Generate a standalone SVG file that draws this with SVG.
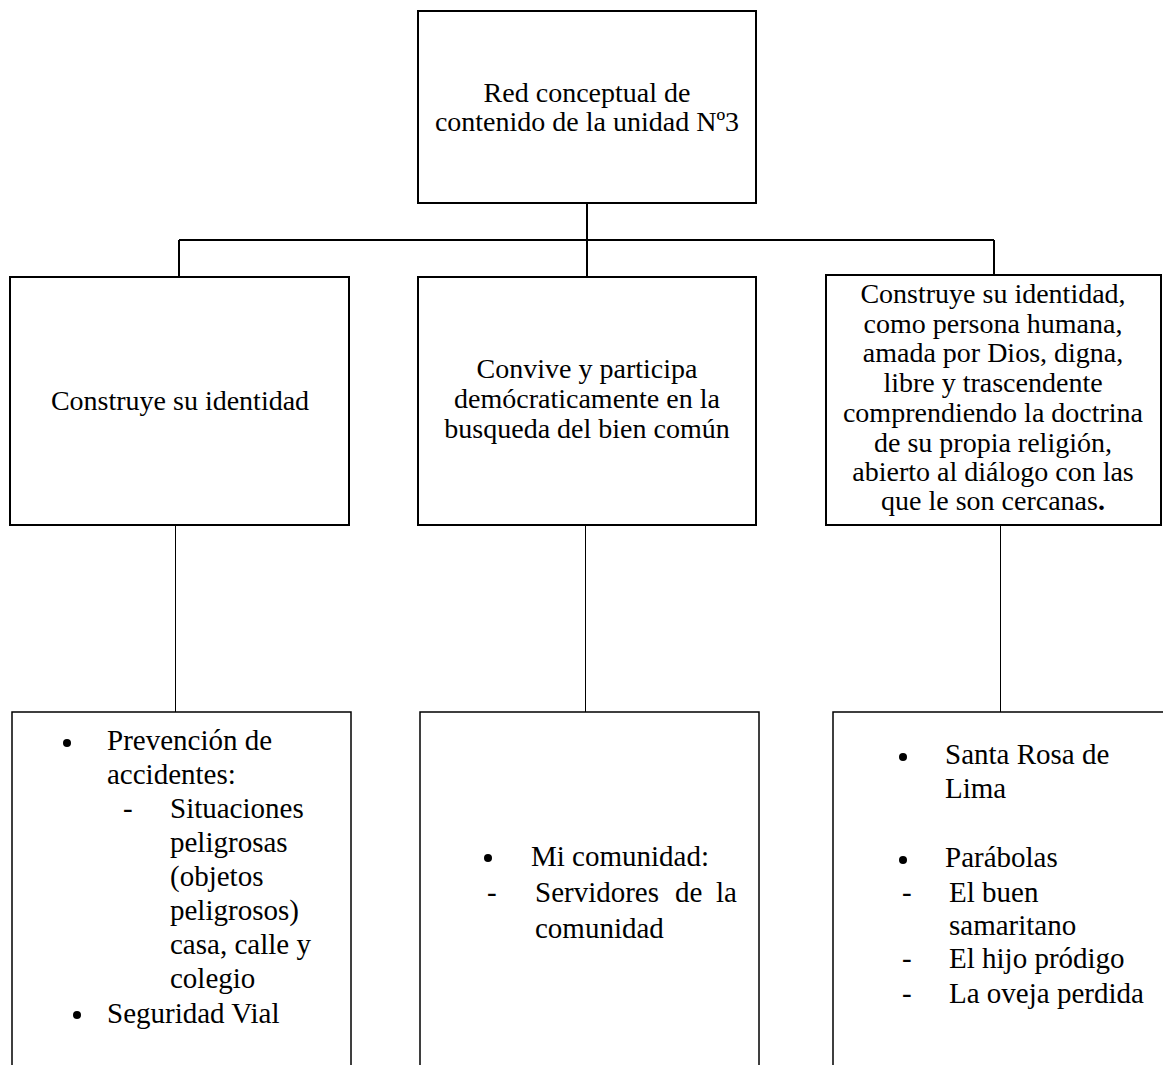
<svg xmlns="http://www.w3.org/2000/svg" width="1163" height="1065" viewBox="0 0 1163 1065">
<style>
.box{fill:#fff;stroke:#000;stroke-width:2}
.sub{fill:#fff;stroke:#000;stroke-width:1.5}
.t{font-family:"Liberation Serif","Times New Roman",serif;font-size:28px;fill:#000;text-anchor:middle}
.b{font-family:"Liberation Serif","Times New Roman",serif;font-size:29px;fill:#000}
.c{fill:none;stroke:#000}
</style>
<rect width="1163" height="1065" fill="#fff"/>
<g id="connectors">
<path class="c" stroke-width="2" d="M587 203V240M179 240H994M179 240V277M587 240V277M994 240V275"/>
<path class="c" stroke-width="1" d="M175.5 526V712M585.5 526V712M1000.5 526V712"/>
</g>
<g id="root">
<rect class="box" x="418" y="11" width="338" height="192"/>
<text class="t" x="587" y="102">Red conceptual de</text>
<text class="t" x="587" y="131">contenido de la unidad Nº3</text>
</g>
<g id="n1">
<rect class="box" x="10" y="277" width="339" height="248"/>
<text class="t" x="180" y="410">Construye su identidad</text>
</g>
<g id="n2">
<rect class="box" x="418" y="277" width="338" height="248"/>
<text class="t" x="587" y="378">Convive y participa</text>
<text class="t" x="587" y="408">demócraticamente en la</text>
<text class="t" x="587" y="438">busqueda del bien común</text>
</g>
<g id="n3">
<rect class="box" x="826" y="275" width="335" height="250"/>
<text class="t" x="993" y="303">Construye su identidad,</text>
<text class="t" x="993" y="333">como persona humana,</text>
<text class="t" x="993" y="362">amada por Dios, digna,</text>
<text class="t" x="993" y="392">libre y trascendente</text>
<text class="t" x="993" y="422">comprendiendo la doctrina</text>
<text class="t" x="993" y="452">de su propia religión,</text>
<text class="t" x="993" y="481">abierto al diálogo con las</text>
<text class="t" x="993" y="510">que le son cercanas<tspan font-weight="bold">.</tspan></text>
</g>
<g id="n1a">
<rect class="sub" x="12" y="712" width="339" height="360"/>
<circle cx="67" cy="743" r="4"/>
<text class="b" x="107" y="750">Prevención de</text>
<text class="b" x="107" y="784">accidentes:</text>
<text class="b" x="123" y="818">-</text>
<text class="b" x="170" y="818">Situaciones</text>
<text class="b" x="170" y="852">peligrosas</text>
<text class="b" x="170" y="886">(objetos</text>
<text class="b" x="170" y="920">peligrosos)</text>
<text class="b" x="170" y="954">casa, calle y</text>
<text class="b" x="170" y="988">colegio</text>
<circle cx="77" cy="1015" r="4"/>
<text class="b" x="107" y="1023">Seguridad Vial</text>
</g>
<g id="n2a">
<rect class="sub" x="420" y="712" width="339" height="360"/>
<circle cx="488" cy="858" r="4"/>
<text class="b" x="531" y="866">Mi comunidad:</text>
<text class="b" x="487" y="902">-</text>
<text class="b" y="902"><tspan x="535">Servidores</tspan><tspan x="675">de</tspan><tspan x="716">la</tspan></text>
<text class="b" x="535" y="938">comunidad</text>
</g>
<g id="n3a">
<rect class="sub" x="833" y="712" width="340" height="360"/>
<circle cx="903" cy="757" r="4"/>
<text class="b" x="945" y="764">Santa Rosa de</text>
<text class="b" x="945" y="798">Lima</text>
<circle cx="903" cy="860" r="4"/>
<text class="b" x="945" y="867">Parábolas</text>
<text class="b" x="902" y="902">-</text>
<text class="b" x="949" y="902">El buen</text>
<text class="b" x="949" y="935">samaritano</text>
<text class="b" x="902" y="968">-</text>
<text class="b" x="949" y="968">El hijo pródigo</text>
<text class="b" x="902" y="1003">-</text>
<text class="b" x="949" y="1003">La oveja perdida</text>
</g>
</svg>
